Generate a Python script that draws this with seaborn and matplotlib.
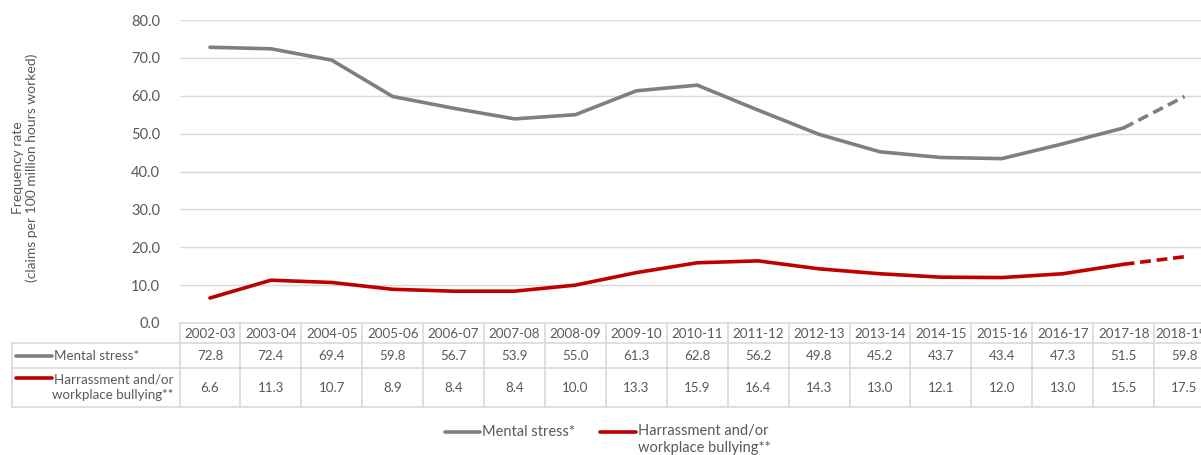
import numpy as np
import pandas as pd
import matplotlib
matplotlib.use("Agg")
import matplotlib.pyplot as plt
import seaborn as sns
from matplotlib.transforms import blended_transform_factory
from matplotlib.lines import Line2D

years = ["2002-03", "2003-04", "2004-05", "2005-06", "2006-07", "2007-08", "2008-09",
         "2009-10", "2010-11", "2011-12", "2012-13", "2013-14", "2014-15", "2015-16",
         "2016-17", "2017-18", "2018-19p"]
mental_stress = [72.8, 72.4, 69.4, 59.8, 56.7, 53.9, 55.0, 61.3, 62.8, 56.2, 49.8,
                 45.2, 43.7, 43.4, 47.3, 51.5, 59.8]
harassment = [6.6, 11.3, 10.7, 8.9, 8.4, 8.4, 10.0, 13.3, 15.9, 16.4, 14.3,
              13.0, 12.1, 12.0, 13.0, 15.5, 17.5]
series_names = ["Mental stress*", "Harrassment and/or\nworkplace bullying**"]
y_ticks = [0, 10, 20, 30, 40, 50, 60, 70, 80]
y_label = "Frequency rate\n(claims per 100 million hours worked)"

GRAY = "#7f7f7f"
RED = "#c00000"
GRID = "#d9d9d9"
TXT = "#595959"

sns.set_theme(style="white")
plt.rcParams["font.family"] = ["Lato", "DejaVu Sans"]

W, H = 1201, 455
fig = plt.figure(figsize=(W / 100, H / 100), dpi=100)

def fx(px):
    return px / W

def fy(py):
    return 1 - py / H

ax_left, ax_right = 179.5, 1215
ax_top, ax_bot = 20, 323
ax = fig.add_axes([fx(ax_left), fy(ax_bot), fx(ax_right - ax_left), (ax_bot - ax_top) / H])

n = len(years)
idx = np.arange(n)
df = pd.DataFrame({"x": idx, "ms": mental_stress, "hb": harassment})
solid = df.iloc[: n - 1]
dashed = df.iloc[n - 2:]

sns.lineplot(data=solid, x="x", y="ms", ax=ax, color=GRAY, lw=2.6, solid_capstyle="round")
sns.lineplot(data=dashed, x="x", y="ms", ax=ax, color=GRAY, lw=2.6, linestyle=(0, (3, 1.6)))
sns.lineplot(data=solid, x="x", y="hb", ax=ax, color=RED, lw=2.6, solid_capstyle="round")
sns.lineplot(data=dashed, x="x", y="hb", ax=ax, color=RED, lw=2.6, linestyle=(0, (3, 1.6)))

ax.set_xlim(-0.5, n - 0.5)
ax.set_ylim(0, 80)
ax.set_yticks(y_ticks)
ax.set_yticklabels([f"{v:.1f}" for v in y_ticks], color=TXT, fontsize=10.5)
ax.set_xticks([])
ax.set_xlabel("")
ax.set_ylabel("")
ax.tick_params(axis="y", length=0, pad=14)
ax.grid(axis="y", color=GRID, lw=1)
ax.set_axisbelow(True)
for s in ax.spines.values():
    s.set_visible(False)

fig.text(fx(25), fy(168), y_label, rotation=90, ha="center", va="center",
         fontsize=10, color=TXT, linespacing=1.2)

# data table
tr = blended_transform_factory(ax.transData, fig.transFigure)
rows_y = [323, 343, 368, 407]
left_px = 12
lkw = dict(color=GRID, lw=1.2, clip_on=False)
fig.add_artist(Line2D([fx(ax_left), fx(ax_right)], [fy(323), fy(323)], transform=fig.transFigure, **lkw))
for ry in rows_y[1:]:
    fig.add_artist(Line2D([fx(left_px), fx(ax_right)], [fy(ry), fy(ry)], transform=fig.transFigure, **lkw))
for i in range(n + 1):
    fig.add_artist(Line2D([i - 0.5, i - 0.5], [fy(323), fy(407)], transform=tr, **lkw))
fig.add_artist(Line2D([fx(left_px), fx(left_px)], [fy(343), fy(407)], transform=fig.transFigure, **lkw))

tfs = 9.6
for i, yr in enumerate(years):
    ax.text(i, fy(333.5), yr, transform=tr, ha="center", va="center", fontsize=tfs, color=TXT)
    ax.text(i, fy(355.5), f"{mental_stress[i]:.1f}", transform=tr, ha="center", va="center",
            fontsize=tfs, color=TXT)
    ax.text(i, fy(387.5), f"{harassment[i]:.1f}", transform=tr, ha="center", va="center",
            fontsize=tfs, color=TXT)

# row labels with legend keys
fig.add_artist(Line2D([fx(16), fx(52)], [fy(355.5), fy(355.5)], transform=fig.transFigure,
                      color=GRAY, lw=2.6))
fig.text(fx(54), fy(355.5), series_names[0], ha="left", va="center", fontsize=tfs, color=TXT)
fig.add_artist(Line2D([fx(16), fx(52)], [fy(378), fy(378)], transform=fig.transFigure,
                      color=RED, lw=2.6))
fig.text(fx(173), fy(387.5), series_names[1], ha="right", va="center", fontsize=tfs,
         color=TXT, linespacing=1.3, multialignment="right")

# bottom legend
fig.add_artist(Line2D([fx(445), fx(480)], [fy(432), fy(432)], transform=fig.transFigure,
                      color=GRAY, lw=2.6))
fig.text(fx(482), fy(432), series_names[0], ha="left", va="center", fontsize=10.5, color=TXT)
fig.add_artist(Line2D([fx(600), fx(636)], [fy(432), fy(432)], transform=fig.transFigure,
                      color=RED, lw=2.6))
fig.text(fx(638), fy(424), series_names[1], ha="left", va="top", fontsize=10.5, color=TXT,
         linespacing=1.25)

fig.savefig("out.png", dpi=100)
